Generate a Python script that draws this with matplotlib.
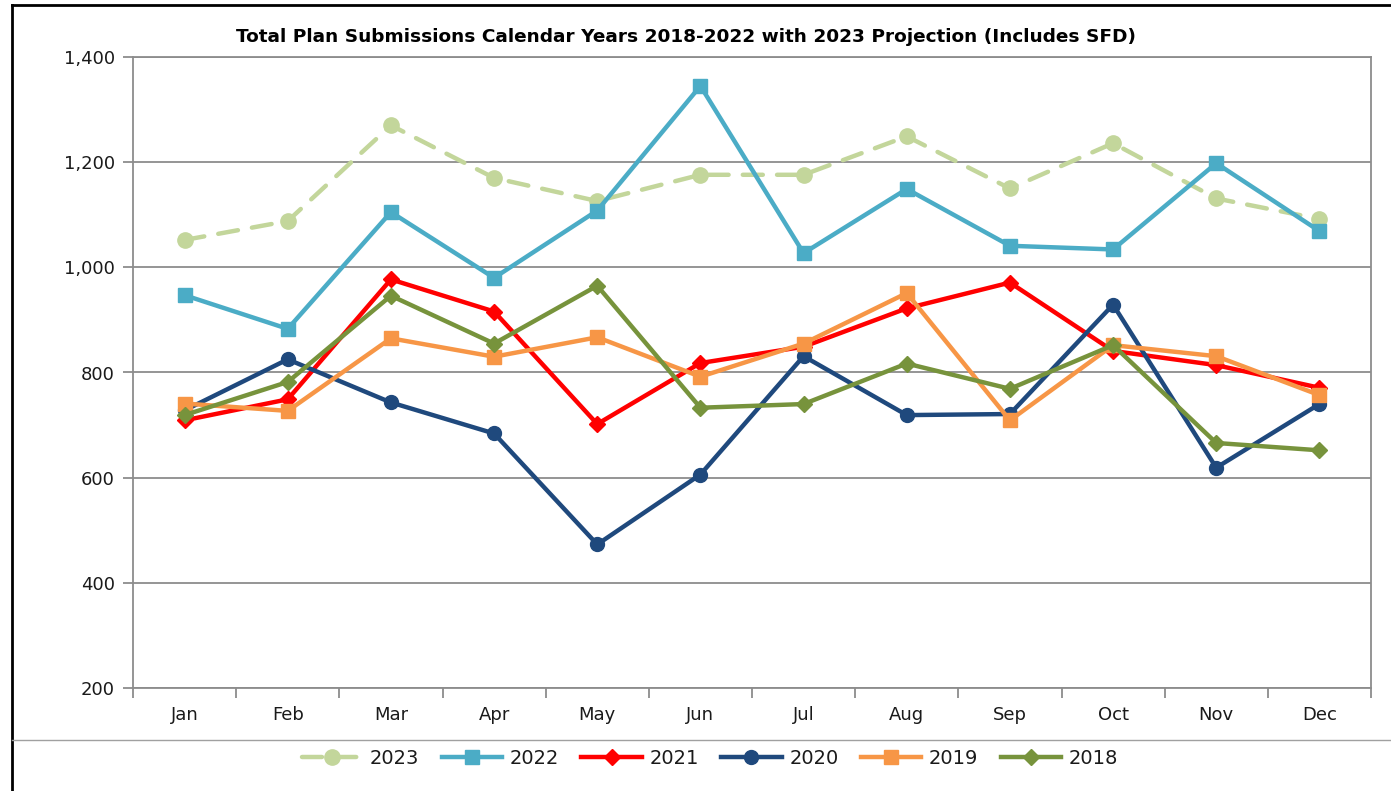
import matplotlib
matplotlib.use("Agg")
import matplotlib.pyplot as plt
from matplotlib.lines import Line2D

months = ["Jan", "Feb", "Mar", "Apr", "May", "Jun", "Jul", "Aug", "Sep", "Oct", "Nov", "Dec"]
y2023 = [1052, 1088, 1270, 1170, 1126, 1176, 1176, 1249, 1150, 1236, 1131, 1092]
y2022 = [947, 883, 1105, 980, 1108, 1345, 1027, 1149, 1041, 1034, 1198, 1069]
y2021 = [709, 749, 977, 916, 702, 818, 849, 922, 971, 841, 814, 771]
y2020 = [728, 825, 743, 684, 473, 606, 831, 719, 721, 929, 619, 740]
y2019 = [741, 727, 865, 830, 867, 792, 855, 951, 709, 852, 831, 757]
y2018 = [719, 782, 946, 855, 965, 733, 740, 817, 769, 852, 666, 652]
yticks = [200, 400, 600, 800, 1000, 1200, 1400]
title = "Total Plan Submissions Calendar Years 2018-2022 with 2023 Projection (Includes SFD)"

plt.rcParams['font.family'] = ['DejaVu Sans']

fig = plt.figure(figsize=(13.91, 7.91), dpi=100)
ax = fig.add_axes([133/1391, 1-688/791, (1371-133)/1391, (688-57)/791])

x = list(range(len(months)))
series = [
    ("2023", y2023, "#C3D69B", "o", 11, dict(linestyle=(0, (4.5, 3.2)), dash_capstyle="round")),
    ("2022", y2022, "#4BACC6", "s", 10, {}),
    ("2021", y2021, "#FF0000", "D", 8, {}),
    ("2020", y2020, "#1F497D", "o", 10, {}),
    ("2019", y2019, "#F79646", "s", 10, {}),
    ("2018", y2018, "#77933C", "D", 8, {}),
]
handles = []
for i, (lab, vals, col, mk, ms, kw) in enumerate(series):
    ln, = ax.plot(x, vals, color=col, lw=3.2, marker=mk, markersize=ms,
                  markerfacecolor=col, markeredgecolor=col, label=lab,
                  zorder=3 + i, solid_joinstyle="round", **kw)
    handles.append(ln)

ax.set_xlim(-0.5, 11.5)
ax.set_ylim(200, 1400)
ax.set_yticks(yticks)
ax.set_yticklabels([f"{v:,}" for v in yticks])
ax.yaxis.grid(True, color="#8C8C8C", lw=1.3)
ax.set_axisbelow(True)
ax.set_xticks(x)
ax.set_xticklabels(months)
ax.set_xticks([i + 0.5 for i in range(-1, 12)], minor=True)
ax.tick_params(axis="x", which="major", length=0, pad=13, labelsize=13, colors="#1a1a1a")
ax.tick_params(axis="x", which="minor", length=7, width=1.3, color="#8C8C8C", direction="out")
ax.tick_params(axis="y", length=7, width=1.3, color="#8C8C8C", labelsize=13, pad=6, labelcolor="#1a1a1a")
for s in ax.spines.values():
    s.set_color("#8C8C8C")
    s.set_linewidth(1.3)

fig.text(685.5/1391, 1-37/791, title, ha="center", va="center", fontsize=13.3, fontweight="bold")

leg = fig.legend(handles=handles, loc="center", bbox_to_anchor=(710/1391, 1-758/791),
                 ncol=6, frameon=False, fontsize=14, handlelength=3.1,
                 columnspacing=1.15, handletextpad=0.4)
for t in leg.get_texts():
    t.set_color("#1a1a1a")

# outer frame lines
fig.add_artist(Line2D([12/1391, 12/1391], [0, 1-5/791], color="black", lw=2, transform=fig.transFigure))
fig.add_artist(Line2D([12/1391, 1], [1-5/791, 1-5/791], color="black", lw=2, transform=fig.transFigure))
fig.add_artist(Line2D([12/1391, 1], [1-740/791, 1-740/791], color="#A0A0A0", lw=1, transform=fig.transFigure))

fig.savefig("out.png", dpi=100)
